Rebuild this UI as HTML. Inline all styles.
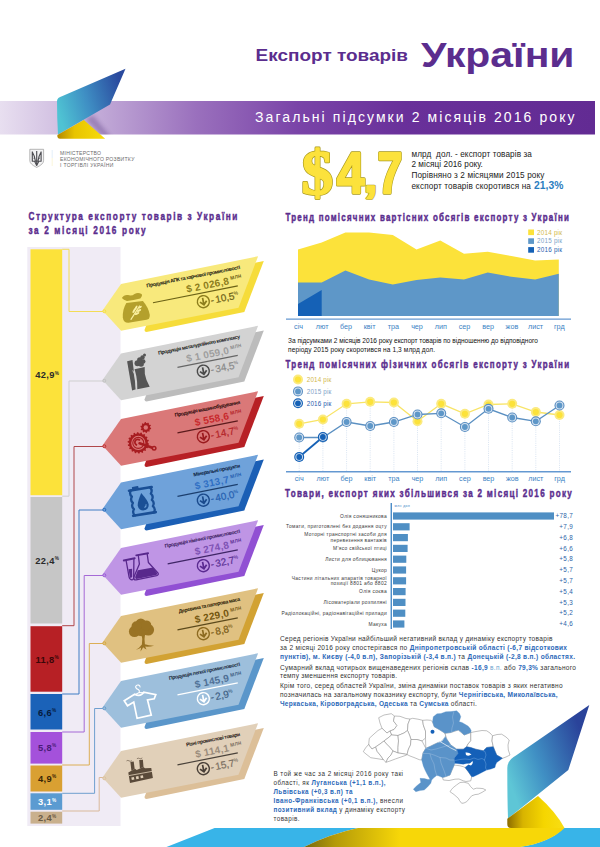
<!DOCTYPE html>
<html lang="uk"><head><meta charset="utf-8"><title>Експорт товарів України</title>
<style>
html,body{margin:0;padding:0;background:#fff;}
body{width:600px;height:847px;overflow:hidden;font-family:"Liberation Sans",sans-serif;}
svg{display:block;}
text{font-family:"Liberation Sans",sans-serif;}
.h{font-weight:bold;fill:#5b2d8e;}
.p{font-size:6.55px;fill:#333;}
.b{font-weight:bold;fill:#2b68b8;}
</style></head><body>
<svg width="600" height="847" viewBox="0 0 600 847">
<defs>
<linearGradient id="band" x1="0" x2="1" y1="0" y2="0">
<stop offset="0" stop-color="#e8dff0"/><stop offset="0.15" stop-color="#c6b0da"/><stop offset="0.33" stop-color="#9a70bd"/><stop offset="0.5" stop-color="#7a44a8"/><stop offset="0.68" stop-color="#69309a"/><stop offset="1" stop-color="#622b93"/>
</linearGradient>
<linearGradient id="rib1" x1="57" y1="108" x2="122" y2="88" gradientUnits="userSpaceOnUse">
<stop offset="0" stop-color="#4fc3d3"/><stop offset="0.45" stop-color="#3f8fc4"/><stop offset="1" stop-color="#2a4a9e"/>
</linearGradient>
<linearGradient id="fold1" x1="58" y1="0" x2="105" y2="0" gradientUnits="userSpaceOnUse">
<stop offset="0" stop-color="#b58a00"/><stop offset="0.35" stop-color="#e8c400"/><stop offset="1" stop-color="#f7dc0a"/>
</linearGradient>
<linearGradient id="rib2" x1="507" y1="775" x2="586" y2="745" gradientUnits="userSpaceOnUse">
<stop offset="0" stop-color="#5ec6d6"/><stop offset="0.4" stop-color="#4090c4"/><stop offset="1" stop-color="#2a439a"/>
</linearGradient>
<linearGradient id="fold2" x1="507" y1="0" x2="560" y2="0" gradientUnits="userSpaceOnUse">
<stop offset="0" stop-color="#8a6a00"/><stop offset="0.3" stop-color="#d8b400"/><stop offset="0.7" stop-color="#f5d600"/><stop offset="1" stop-color="#f8dc10"/>
</linearGradient>
<linearGradient id="boty" x1="300" y1="0" x2="400" y2="0" gradientUnits="userSpaceOnUse">
<stop offset="0" stop-color="#6e6210"/><stop offset="0.35" stop-color="#b49a08"/><stop offset="1" stop-color="#f7d708"/>
</linearGradient>
<filter id="blur2" x="-30%" y="-30%" width="160%" height="160%"><feGaussianBlur stdDeviation="2"/></filter>
<clipPath id="bandclip"><rect x="0" y="101" width="595" height="33.5"/></clipPath>
</defs>
<rect width="600" height="847" fill="#fff"/>

<rect x="0" y="101" width="595" height="33.5" fill="url(#band)"/>
<g clip-path="url(#bandclip)"><path d="M85 119 L107 140 L113 140 L93 115 Z" fill="#3d1f6b" opacity="0.3" filter="url(#blur2)"/></g>
<path d="M125.5 68.8 L110 104.6 L58 134.6 Q57 118 57 101 Q57 97.5 62.5 96 Z" fill="url(#rib1)"/>
<path d="M57.4 135 L83.8 120 L105.2 138.8 L60 138.8 Q57 138.8 57.4 135 Z" fill="url(#fold1)"/>
<text class="h" x="255.6" y="61" font-size="17.2" textLength="152.4" lengthAdjust="spacingAndGlyphs">Експорт товарів</text>
<text class="h" x="421" y="66.6" font-size="35.8" textLength="153.5" lengthAdjust="spacingAndGlyphs">України</text>
<text x="255" y="122.2" font-size="14" fill="#fff" textLength="319.5" lengthAdjust="spacing">Загальні підсумки 2 місяців 2016 року</text>
<path d="M29.8 149.3 H43.6 V160.6 Q43.6 164.2 36.7 167.4 Q29.8 164.2 29.8 160.6 Z" fill="#f3f3f4" stroke="#9a9a9a" stroke-width="0.7"/>
<path d="M36.7 151 V165.2 M32.3 151.6 V161.2 H41.1 V151.6 M32.3 152 Q34.6 155.5 35.4 161 M41.1 152 Q38.8 155.5 38 161 M34.6 161.2 L36.7 165.4 L38.8 161.2 M33.6 158.2 H35 M38.4 158.2 H39.8" fill="none" stroke="#4d4d52" stroke-width="1.15" stroke-linejoin="round"/>
<rect x="51.8" y="150" width="0.6" height="8" fill="#cfe3f5"/><rect x="51.8" y="158" width="0.6" height="8" fill="#f8efc0"/>
<text x="60" y="154.6" font-size="5.1" fill="#6b6b6b" textLength="41" lengthAdjust="spacing">МІНІСТЕРСТВО</text>
<text x="60" y="160.6" font-size="5.1" fill="#6b6b6b" textLength="74.4" lengthAdjust="spacing">ЕКОНОМІЧНОГО РОЗВИТКУ</text>
<text x="60" y="166.6" font-size="5.1" fill="#6b6b6b" textLength="53.4" lengthAdjust="spacing">І ТОРГІВЛІ УКРАЇНИ</text>
<g font-weight="bold" stroke-linejoin="round">
<text x="0" y="0" font-size="63.5" style="font-family:'Liberation Serif',serif" transform="translate(301.4,194) scale(1.0,1)" fill="#a8991e" stroke="#a8991e" stroke-width="2.8">$</text>
<text x="0" y="0" font-size="63.5" style="font-family:'Liberation Serif',serif" transform="translate(301.4,194) scale(1.0,1)" fill="#fce23c" stroke="#fce23c" stroke-width="1.4">$</text>
<text font-size="56.6" transform="translate(336.8,193) scale(0.88,1)" fill="#a8991e" stroke="#a8991e" stroke-width="3.4">4</text>
<text font-size="56.6" transform="translate(363.4,191.8) scale(0.9,0.72)" fill="#a8991e" stroke="#a8991e" stroke-width="3.4">,</text>
<text font-size="56.6" transform="translate(377.4,193) scale(0.79,1)" fill="#a8991e" stroke="#a8991e" stroke-width="3.4">7</text>
<text font-size="56.6" transform="translate(336.8,193) scale(0.88,1)" fill="#fce23c" stroke="#fce23c" stroke-width="2">4</text>
<text font-size="56.6" transform="translate(363.4,191.8) scale(0.9,0.72)" fill="#fce23c" stroke="#fce23c" stroke-width="2">,</text>
<text font-size="56.6" transform="translate(377.4,193) scale(0.79,1)" fill="#fce23c" stroke="#fce23c" stroke-width="2">7</text>
</g>
<text x="411.4" y="157.4" font-size="8.2" fill="#222" textLength="120.5" lengthAdjust="spacing">млрд&#160;&#160;дол. - експорт товарів за</text>
<text x="411.4" y="167" font-size="8.2" fill="#222" textLength="71.5" lengthAdjust="spacing">2 місяці 2016 року.</text>
<text x="411.4" y="178.4" font-size="8.2" fill="#222" textLength="133" lengthAdjust="spacing">Порівняно з 2 місяцями 2015 року</text>
<text x="411.4" y="188.9" font-size="8.2" fill="#222" textLength="119.5" lengthAdjust="spacing">експорт товарів скоротився на</text>
<text x="534" y="188.9" font-size="10.3" font-weight="bold" fill="#2b7dc0" textLength="29.5" lengthAdjust="spacing">21,3%</text>
<text class="h" font-size="11.3" stroke="#5b2d8e" stroke-width="0.45" transform="translate(28.4,219.9) scale(0.73,1)" textLength="286.3" lengthAdjust="spacing">Структура експорту товарів з України</text>
<text class="h" font-size="11.3" stroke="#5b2d8e" stroke-width="0.45" transform="translate(28.4,233.7) scale(0.73,1)" textLength="160.7" lengthAdjust="spacing">за 2 місяці 2016 року</text>
<text class="h" font-size="10.9" stroke="#5b2d8e" stroke-width="0.45" transform="translate(285.5,221) scale(0.73,1)" textLength="388.1" lengthAdjust="spacing">Тренд помісячних вартісних обсягів експорту з України</text>
<text class="h" font-size="10.9" stroke="#5b2d8e" stroke-width="0.45" transform="translate(285.5,368) scale(0.73,1)" textLength="388.4" lengthAdjust="spacing">Тренд помісячних фізичних обсягів експорту з України</text>
<text class="h" font-size="11.1" stroke="#5b2d8e" stroke-width="0.45" transform="translate(285,496.8) scale(0.73,1)" textLength="392.9" lengthAdjust="spacing">Товари, експорт яких збільшився за 2 місяці 2016 року</text>
<rect x="27.3" y="247" width="93.2" height="579" fill="#f0ebf5"/>
<rect x="30.5" y="249.3" width="31.7" height="245.9" fill="#fce23a"/>
<rect x="30.5" y="497" width="31.7" height="126.5" fill="#c6c6c6"/>
<rect x="30.5" y="626.2" width="31.7" height="65.5" fill="#b72025"/>
<rect x="30.5" y="694" width="31.7" height="35.5" fill="#1b62b8"/>
<rect x="30.5" y="732" width="31.7" height="31.6" fill="#a451db"/>
<rect x="30.5" y="765.5" width="31.7" height="26.0" fill="#d9a032"/>
<rect x="30.5" y="793.3" width="31.7" height="16.5" fill="#5b9bd1"/>
<rect x="30.5" y="811.7" width="31.7" height="11.9" fill="#c9b08d"/>
<text x="47.2" y="378" font-size="9.3" font-weight="bold" fill="#2a2a2a" text-anchor="middle" letter-spacing="0.35">42,9<tspan font-size="4.7" dy="-3.5">%</tspan></text>
<text x="47.2" y="563.5" font-size="9.3" font-weight="bold" fill="#2a2a2a" text-anchor="middle" letter-spacing="0.35">22,4<tspan font-size="4.7" dy="-3.5">%</tspan></text>
<text x="47.2" y="662.5" font-size="9.3" font-weight="bold" fill="#3a0708" text-anchor="middle" letter-spacing="0.35">11,8<tspan font-size="4.7" dy="-3.5">%</tspan></text>
<text x="47.2" y="715.5" font-size="9.3" font-weight="bold" fill="#061a3c" text-anchor="middle" letter-spacing="0.35">6,6<tspan font-size="4.7" dy="-3.5">%</tspan></text>
<text x="47.2" y="750.5" font-size="9.3" font-weight="bold" fill="#4a1c78" text-anchor="middle" letter-spacing="0.35">5,8<tspan font-size="4.7" dy="-3.5">%</tspan></text>
<text x="47.2" y="781.8" font-size="9.3" font-weight="bold" fill="#3a2606" text-anchor="middle" letter-spacing="0.35">4,9<tspan font-size="4.7" dy="-3.5">%</tspan></text>
<text x="47.2" y="805" font-size="9.3" font-weight="bold" fill="#ffffff" text-anchor="middle" letter-spacing="0.35">3,1<tspan font-size="4.7" dy="-3.5">%</tspan></text>
<text x="47.2" y="821.3" font-size="9.3" font-weight="bold" fill="#6a5a44" text-anchor="middle" letter-spacing="0.35">2,4<tspan font-size="4.7" dy="-3.5">%</tspan></text>
<path d="M62.2 249.3 H69 V311.5 H104" fill="none" stroke="#f3dc55" stroke-width="1"/>
<path d="M62.2 496.2 H69 V381 H104" fill="none" stroke="#cfcfcf" stroke-width="1"/>
<path d="M62.2 625.7 H74 V446.5 H104" fill="none" stroke="#b0474a" stroke-width="1"/>
<path d="M62.2 694 H79 V510 H104" fill="none" stroke="#3f7cc4" stroke-width="1"/>
<path d="M62.2 732 H84.2 V575.5 H104" fill="none" stroke="#a569d6" stroke-width="1"/>
<path d="M62.2 765 H89.3 V643.5 H104" fill="none" stroke="#dcae55" stroke-width="1"/>
<path d="M62.2 793.3 H94.6 V708.5 H104" fill="none" stroke="#6f9fcf" stroke-width="1"/>
<path d="M62.2 811 H99.2 V777.5 H104" fill="none" stroke="#d9b99a" stroke-width="1"/>
<g transform="translate(102.5,310.5)">
<path d="M60 -29 L161.3 -49.6 L141.8 1.4 L44 21.6 Q42 21.6 42 19.5 Z" fill="#f6dc3a"/>
<path d="M0 0 L18.5 -26.5 L155.6 -54.3 L136 -2.8 L18.6 20.2 Z" fill="#f8e97c"/>
<circle cx="1.8" cy="0.8" r="1.5" fill="#f8e97c" stroke="#f6dc3a" stroke-width="0.8"/>
<g transform="translate(0,0)"><path d="M23.8 -7.4 L40.4 -9.4 Q46 -3 47.3 4.5 Q47.5 8.5 44 9.3 L26 12.3 Q21 12.5 20.3 7 Q20 -1 23.8 -7.4 Z" fill="#b4a02c"/><path d="M19.4 -12.4 Q21.5 -16 25.5 -15.4 Q29.5 -14.4 32 -16.6 Q35.5 -18.6 39 -16.6 Q40.5 -15.4 37.8 -12 Q31 -10.4 24.5 -9.6 Q21 -10.4 19.4 -12.4 Z" fill="#b4a02c"/><g fill="#faf0a0"><path d="M27.7 9 L36.8 -5.2 L37.8 -4.6 L28.8 9.6 Z"/><ellipse cx="31.5" cy="0.2" rx="2.6" ry="1" transform="rotate(-60 31.5 0.2)"/><ellipse cx="33.5" cy="-2.8" rx="2.4" ry="1" transform="rotate(-60 33.5 -2.8)"/><ellipse cx="34.5" cy="3" rx="2.6" ry="1" transform="rotate(-25 34.5 3)"/><ellipse cx="36.5" cy="0" rx="2.4" ry="1" transform="rotate(-25 36.5 0)"/><ellipse cx="37.6" cy="-3.2" rx="2" ry="0.9" transform="rotate(-35 37.6 -3.2)"/></g></g>
<g transform="rotate(-11.3)">
<text x="143" y="-13.9" font-size="5.2" font-weight="bold" fill="#1a1a10" text-anchor="end" letter-spacing="-0.38">Продукція АПК та харчової промисловості</text>
<text x="129.8" y="-1" font-size="10" font-weight="bold" fill="#8c7d1c" text-anchor="end" letter-spacing="0.2">$ 2 026,8</text>
<text x="131.6" y="-5.2" font-size="6" fill="#6b6016" stroke="#6b6016" stroke-width="0.12" letter-spacing="0.1">млн</text>
<path d="M51 2.3 H137.5" stroke="#6b6216" stroke-width="1.15"/>
<circle cx="100.6" cy="11.1" r="6" fill="none" stroke="#8c7d1c" stroke-width="1.4"/>
<path d="M100.6 7.2 V14.2 M97.2 10.9 L100.6 14.3 L104 10.9" fill="none" stroke="#8c7d1c" stroke-width="1.7"/>
<text x="108" y="14.8" font-size="10" fill="#6b6016" stroke="#6b6016" stroke-width="0.2" letter-spacing="-0.1">-<tspan dx="1.6">10,5</tspan><tspan font-size="4.8" dy="-4.2" stroke-width="0.1">%</tspan></text>
</g></g>
<g transform="translate(102.5,380)">
<path d="M60 -29 L161.3 -49.6 L141.8 1.4 L44 21.6 Q42 21.6 42 19.5 Z" fill="#bcbcbc"/>
<path d="M0 0 L18.5 -26.5 L155.6 -54.3 L136 -2.8 L18.6 20.2 Z" fill="#d3d3d3"/>
<circle cx="1.8" cy="0.8" r="1.5" fill="#d3d3d3" stroke="#bcbcbc" stroke-width="0.8"/>
<g transform="translate(0,0)"><path d="M24.6 -18.8 L30 -20 L33.4 9.2 L29.6 10.4 Z" fill="#555555"/><path d="M32 -10.8 L42.2 -12.9 Q41.6 -5.8 44 0 L47.2 6.7 L34.8 9.3 Q35 2 33.8 -4 Q33 -8 32 -10.8 Z" fill="#555555"/><path d="M30.3 -9.5 Q33.6 -4 33.6 9.5" fill="none" stroke="#d3d3d3" stroke-width="0.9"/><circle cx="35" cy="-16.8" r="3" fill="#555555"/><circle cx="38.6" cy="-16" r="2.8" fill="#555555"/><circle cx="37.4" cy="-20" r="2.8" fill="#555555"/><circle cx="40" cy="-22.6" r="2.2" fill="#555555"/><circle cx="42" cy="-25" r="1.5" fill="#555555"/><circle cx="40.8" cy="-18.6" r="2.2" fill="#555555"/></g>
<g transform="rotate(-11.3)">
<text x="143" y="-13.9" font-size="5.2" font-weight="bold" fill="#1a1a1a" text-anchor="end" letter-spacing="-0.38">Продукція металургійного комплексу</text>
<text x="129.8" y="-1" font-size="10" font-weight="bold" fill="#9e9e9e" text-anchor="end" letter-spacing="0.2">$ 1 059,0</text>
<text x="131.6" y="-5.2" font-size="6" fill="#8a8a8a" stroke="#8a8a8a" stroke-width="0.12" letter-spacing="0.1">млн</text>
<path d="M76 2.3 H137.5" stroke="#666666" stroke-width="1.15"/>
<circle cx="100.6" cy="11.1" r="6" fill="none" stroke="#4a4a4a" stroke-width="1.4"/>
<path d="M100.6 7.2 V14.2 M97.2 10.9 L100.6 14.3 L104 10.9" fill="none" stroke="#4a4a4a" stroke-width="1.7"/>
<text x="108" y="14.8" font-size="10" fill="#8a8a8a" stroke="#8a8a8a" stroke-width="0.2" letter-spacing="-0.1">-<tspan dx="1.6">34,5</tspan><tspan font-size="4.8" dy="-4.2" stroke-width="0.1">%</tspan></text>
</g></g>
<g transform="translate(102.5,445.5)">
<path d="M60 -29 L161.3 -49.6 L141.8 1.4 L44 21.6 Q42 21.6 42 19.5 Z" fill="#b72025"/>
<path d="M0 0 L18.5 -26.5 L155.6 -54.3 L136 -2.8 L18.6 20.2 Z" fill="#da7878"/>
<circle cx="1.8" cy="0.8" r="1.5" fill="#da7878" stroke="#b72025" stroke-width="0.8"/>
<g transform="translate(0,0)"><polygon points="45.10,-2.60 46.49,-2.04 46.34,-0.74 44.86,-0.51 44.54,0.58 45.65,1.58 45.07,2.75 43.60,2.47 42.92,3.38 43.63,4.70 42.68,5.60 41.40,4.83 40.45,5.45 40.66,6.93 39.46,7.45 38.52,6.29 37.41,6.56 37.10,8.02 35.80,8.10 35.31,6.69 34.19,6.56 33.39,7.83 32.14,7.45 32.17,5.96 31.15,5.45 29.97,6.37 28.92,5.60 29.46,4.20 28.68,3.38 27.25,3.84 26.53,2.75 27.51,1.62 27.06,0.58 25.57,0.53 25.26,-0.74 26.57,-1.47 26.50,-2.60 25.11,-3.16 25.26,-4.46 26.74,-4.69 27.06,-5.78 25.95,-6.78 26.53,-7.95 28.00,-7.67 28.68,-8.58 27.97,-9.90 28.92,-10.80 30.20,-10.03 31.15,-10.65 30.94,-12.13 32.14,-12.65 33.08,-11.49 34.19,-11.76 34.50,-13.22 35.80,-13.30 36.29,-11.89 37.41,-11.76 38.21,-13.03 39.46,-12.65 39.43,-11.16 40.45,-10.65 41.63,-11.57 42.68,-10.80 42.14,-9.40 42.92,-8.58 44.35,-9.04 45.07,-7.95 44.09,-6.82 44.54,-5.78 46.03,-5.73 46.34,-4.46 45.03,-3.73" fill="#a71d21"/><circle cx="35.8" cy="-2.6" r="9.4" fill="#a71d21"/><circle cx="35.8" cy="-2.6" r="7.1" fill="#da7878"/><circle cx="35.8" cy="-2.6" r="5.5" fill="none" stroke="#a71d21" stroke-width="1.1"/><polygon points="47.50,-18.00 48.68,-17.49 48.44,-16.33 47.15,-16.33 46.70,-15.53 47.35,-14.43 46.47,-13.63 45.44,-14.38 44.60,-14.01 44.48,-12.73 43.30,-12.60 42.90,-13.82 42.00,-14.01 41.16,-13.04 40.13,-13.63 40.52,-14.85 39.90,-15.53 38.65,-15.25 38.16,-16.33 39.20,-17.08 39.10,-18.00 37.92,-18.51 38.16,-19.67 39.45,-19.67 39.90,-20.47 39.25,-21.57 40.13,-22.37 41.16,-21.62 42.00,-21.99 42.12,-23.27 43.30,-23.40 43.70,-22.18 44.60,-21.99 45.44,-22.96 46.47,-22.37 46.08,-21.15 46.70,-20.47 47.95,-20.75 48.44,-19.67 47.40,-18.92" fill="#a71d21"/><circle cx="43.3" cy="-18" r="4.3" fill="#a71d21"/><circle cx="43.3" cy="-18" r="2.2" fill="#da7878"/><path d="M37 -2.2 L51.3 2.7" stroke="#a71d21" stroke-width="2.5" stroke-linecap="round"/><circle cx="51.6" cy="2.8" r="2.5" fill="#a71d21"/><circle cx="51.6" cy="2.8" r="1" fill="#da7878"/><path d="M37.4 -5.2 A2.9 2.9 0 1 0 34.6 -0.4" fill="none" stroke="#a71d21" stroke-width="1.8"/></g>
<g transform="rotate(-11.3)">
<text x="143" y="-13.9" font-size="5.2" font-weight="bold" fill="#2a0a0a" text-anchor="end" letter-spacing="-0.38">Продукція машинобудування</text>
<text x="129.8" y="-1" font-size="10" font-weight="bold" fill="#c8282c" text-anchor="end" letter-spacing="0.2">$ 558,6</text>
<text x="131.6" y="-5.2" font-size="6" fill="#b32428" stroke="#b32428" stroke-width="0.12" letter-spacing="0.1">млн</text>
<path d="M76 2.3 H137.5" stroke="#5a1a1c" stroke-width="1.15"/>
<circle cx="100.6" cy="11.1" r="6" fill="none" stroke="#9a1a1e" stroke-width="1.4"/>
<path d="M100.6 7.2 V14.2 M97.2 10.9 L100.6 14.3 L104 10.9" fill="none" stroke="#9a1a1e" stroke-width="1.7"/>
<text x="108" y="14.8" font-size="10" fill="#b32428" stroke="#b32428" stroke-width="0.2" letter-spacing="-0.1">-<tspan dx="1.6">14,7</tspan><tspan font-size="4.8" dy="-4.2" stroke-width="0.1">%</tspan></text>
</g></g>
<g transform="translate(102.5,509)">
<path d="M60 -29 L161.3 -49.6 L141.8 1.4 L44 21.6 Q42 21.6 42 19.5 Z" fill="#1b5fb5"/>
<path d="M0 0 L18.5 -26.5 L155.6 -54.3 L136 -2.8 L18.6 20.2 Z" fill="#6fa2da"/>
<circle cx="1.8" cy="0.8" r="1.5" fill="#6fa2da" stroke="#1b5fb5" stroke-width="0.8"/>
<g transform="translate(0,0)"><g transform="rotate(-9.3 39.9 -7.6)"><path d="M28.5 -20.299999999999997 H51.3 M28.5 5.1 H51.3" fill="none" stroke="#1a4f95" stroke-width="2.7" stroke-linecap="round"/><path d="M30.299999999999997 -20.299999999999997 q-2.6 3.17 0 6.35 q-2.6 3.17 0 6.35 q-2.6 3.17 0 6.35 q-2.6 3.17 0 6.35 M49.5 -20.299999999999997 q2.6 3.17 0 6.35 q2.6 3.17 0 6.35 q2.6 3.17 0 6.35 q2.6 3.17 0 6.35" fill="none" stroke="#1a4f95" stroke-width="2.3" stroke-linecap="round" stroke-linejoin="round"/><rect x="31.7" y="-23.499999999999996" width="6.6" height="2.6" rx="0.8" fill="#1a4f95"/><path d="M40.1 -16.2 Q45.6 -7.3999999999999995 45.6 -3.9999999999999996 A5.5 5.5 0 0 1 34.6 -3.9999999999999996 Q34.6 -7.3999999999999995 40.1 -16.2 Z" fill="#1a4f95"/><path d="M43.1 -4.199999999999999 Q43.1 -1.7999999999999998 40.9 -1.1999999999999993" fill="none" stroke="#6fa2da" stroke-width="1"/></g></g>
<g transform="rotate(-11.3)">
<text x="143" y="-13.9" font-size="5.2" font-weight="bold" fill="#0c1c3c" text-anchor="end" letter-spacing="-0.38">Мінеральні продукти</text>
<text x="129.8" y="-1" font-size="10" font-weight="bold" fill="#2f6fc4" text-anchor="end" letter-spacing="0.2">$ 313,7</text>
<text x="131.6" y="-5.2" font-size="6" fill="#2560b0" stroke="#2560b0" stroke-width="0.12" letter-spacing="0.1">млн</text>
<path d="M76 2.3 H137.5" stroke="#1c3f6e" stroke-width="1.15"/>
<circle cx="100.6" cy="11.1" r="6" fill="none" stroke="#1a4a8c" stroke-width="1.4"/>
<path d="M100.6 7.2 V14.2 M97.2 10.9 L100.6 14.3 L104 10.9" fill="none" stroke="#1a4a8c" stroke-width="1.7"/>
<text x="108" y="14.8" font-size="10" fill="#2560b0" stroke="#2560b0" stroke-width="0.2" letter-spacing="-0.1">-<tspan dx="1.6">40,0</tspan><tspan font-size="4.8" dy="-4.2" stroke-width="0.1">%</tspan></text>
</g></g>
<g transform="translate(102.5,574.5)">
<path d="M60 -29 L161.3 -49.6 L141.8 1.4 L44 21.6 Q42 21.6 42 19.5 Z" fill="#9150d3"/>
<path d="M0 0 L18.5 -26.5 L155.6 -54.3 L136 -2.8 L18.6 20.2 Z" fill="#bf95e5"/>
<circle cx="1.8" cy="0.8" r="1.5" fill="#bf95e5" stroke="#9150d3" stroke-width="0.8"/>
<g transform="translate(0,0)"><g fill="none" stroke="#58288c" stroke-width="1.3" stroke-linejoin="round" stroke-linecap="round"><path d="M21.3 -14 L32.2 -16.2" stroke-width="1.9"/><path d="M23.6 -14 L26.6 2.6 Q27.6 5.8 30.2 5.2 Q31.6 4.4 31.2 2 L31.4 -15.6"/><path d="M33.8 -19.1 L45.6 -21.3" stroke-width="1.9"/><path d="M35.8 -19 L36.9 -10.4 L31.4 2.6 Q30.8 5.6 33.6 5.4 L54.2 1.2 Q56.6 0.2 55.4 -1.6 L45.9 -12 L44.7 -20.4"/></g><path d="M35.3 -4.2 L50.6 -7 L54.6 -1.4 Q55.2 0 53.6 0.5 L33.8 4.4 Q32.4 4.4 32.7 2.6 Z" fill="#58288c"/><path d="M26 -5.2 L29.6 -5.8 L29.7 2 Q29.2 3.8 27.6 3.2 Z" fill="#58288c"/></g>
<g transform="rotate(-11.3)">
<text x="143" y="-13.9" font-size="5.2" font-weight="bold" fill="#3a2060" text-anchor="end" letter-spacing="-0.38">Продукція хімічної промисловості</text>
<text x="129.8" y="-1" font-size="10" font-weight="bold" fill="#7e52b4" text-anchor="end" letter-spacing="0.2">$ 274,8</text>
<text x="131.6" y="-5.2" font-size="6" fill="#5a3094" stroke="#5a3094" stroke-width="0.12" letter-spacing="0.1">млн</text>
<path d="M66 2.3 H137.5" stroke="#3f2566" stroke-width="1.15"/>
<circle cx="100.6" cy="11.1" r="6" fill="none" stroke="#5a2a90" stroke-width="1.4"/>
<path d="M100.6 7.2 V14.2 M97.2 10.9 L100.6 14.3 L104 10.9" fill="none" stroke="#5a2a90" stroke-width="1.7"/>
<text x="108" y="14.8" font-size="10" fill="#5a3094" stroke="#5a3094" stroke-width="0.2" letter-spacing="-0.1">-<tspan dx="1.6">32,7</tspan><tspan font-size="4.8" dy="-4.2" stroke-width="0.1">%</tspan></text>
</g></g>
<g transform="translate(102.5,642.5)">
<path d="M60 -29 L161.3 -49.6 L141.8 1.4 L44 21.6 Q42 21.6 42 19.5 Z" fill="#d2a233"/>
<path d="M0 0 L18.5 -26.5 L155.6 -54.3 L136 -2.8 L18.6 20.2 Z" fill="#e0c181"/>
<circle cx="1.8" cy="0.8" r="1.5" fill="#e0c181" stroke="#d2a233" stroke-width="0.8"/>
<g transform="translate(0,0)"><g transform="translate(0,1.3)"><circle cx="38.3" cy="-20" r="5.2" fill="#997324"/><circle cx="32" cy="-12.3" r="5.6" fill="#997324"/><circle cx="45.8" cy="-14" r="5.8" fill="#997324"/><circle cx="39" cy="-14.6" r="7" fill="#997324"/><circle cx="34" cy="-17.6" r="5" fill="#997324"/><circle cx="43.8" cy="-18.4" r="5" fill="#997324"/><path d="M39 -10 Q40.4 -4 39.4 0.6 Q37 4 33.4 6 Q37 4.8 38.6 3.6 L38 7.8 Q39.8 5 40.6 3.4 Q42 4.6 44 5.6 Q43 4 42.8 2.8 Q47 3.2 51.6 2 Q46 1.6 42.4 0.4 Q41.6 -5 42.6 -10.4 Z" fill="#997324"/></g></g>
<g transform="rotate(-11.3)">
<text x="143" y="-13.9" font-size="5.2" font-weight="bold" fill="#2a1a05" text-anchor="end" letter-spacing="-0.38">Деревина та паперова маса</text>
<text x="129.8" y="-1" font-size="10" font-weight="bold" fill="#73560f" text-anchor="end" letter-spacing="0.2">$ 229,0</text>
<text x="131.6" y="-5.2" font-size="6" fill="#7a5c18" stroke="#7a5c18" stroke-width="0.12" letter-spacing="0.1">млн</text>
<path d="M76 2.3 H137.5" stroke="#5c4a1c" stroke-width="1.15"/>
<circle cx="100.6" cy="11.1" r="6" fill="none" stroke="#8c6a20" stroke-width="1.4"/>
<path d="M100.6 7.2 V14.2 M97.2 10.9 L100.6 14.3 L104 10.9" fill="none" stroke="#8c6a20" stroke-width="1.7"/>
<text x="108" y="14.8" font-size="10" fill="#7a5c18" stroke="#7a5c18" stroke-width="0.2" letter-spacing="-0.1">-<tspan dx="1.6">8,8</tspan><tspan font-size="4.8" dy="-4.2" stroke-width="0.1">%</tspan></text>
</g></g>
<g transform="translate(102.5,707.5)">
<path d="M60 -29 L161.3 -49.6 L141.8 1.4 L44 21.6 Q42 21.6 42 19.5 Z" fill="#5a96ca"/>
<path d="M0 0 L18.5 -26.5 L155.6 -54.3 L136 -2.8 L18.6 20.2 Z" fill="#9dbfdc"/>
<circle cx="1.8" cy="0.8" r="1.5" fill="#9dbfdc" stroke="#5a96ca" stroke-width="0.8"/>
<g transform="translate(0,0)"><g fill="none" stroke="#ffffff" stroke-width="1.7" stroke-linejoin="miter"><path d="M32.1 -13.3 L21.7 -6.7 L25 -1.7 L31.25 -5.4 L34.6 10.8 L48.75 7.5 L45 -7.5 L51.7 -8.75 L53.3 -12.9 L41.25 -15.4 Q38 -10 32.1 -13.3 Z"/><path d="M36.7 -14.6 Q37.4 -17 35.8 -18 Q33 -19 33.2 -21 Q34 -23 36.2 -22.4 Q37.8 -21.6 37.6 -20.2" stroke-width="1.1"/><path d="M31.8 -12.4 L36.7 -15 L42 -14.6" stroke-width="1.1"/></g></g>
<g transform="rotate(-11.3)">
<text x="143" y="-13.9" font-size="5.2" font-weight="bold" fill="#1c2c3c" text-anchor="end" letter-spacing="-0.38">Продукція легкої промисловості</text>
<text x="129.8" y="-1" font-size="10" font-weight="bold" fill="#4f7096" text-anchor="end" letter-spacing="0.2">$ 145,9</text>
<text x="131.6" y="-5.2" font-size="6" fill="#3f5f84" stroke="#3f5f84" stroke-width="0.12" letter-spacing="0.1">млн</text>
<path d="M76 2.3 H137.5" stroke="#ffffff" stroke-width="1.15"/>
<circle cx="100.6" cy="11.1" r="6" fill="none" stroke="#ffffff" stroke-width="1.4"/>
<path d="M100.6 7.2 V14.2 M97.2 10.9 L100.6 14.3 L104 10.9" fill="none" stroke="#ffffff" stroke-width="1.7"/>
<text x="108" y="14.8" font-size="10" fill="#3f5f84" stroke="#3f5f84" stroke-width="0.2" letter-spacing="-0.1">-<tspan dx="1.6">2,9</tspan><tspan font-size="4.8" dy="-4.2" stroke-width="0.1">%</tspan></text>
</g></g>
<g transform="translate(102.5,777.5)">
<path d="M60 -29 L161.3 -49.6 L141.8 1.4 L44 21.6 Q42 21.6 42 19.5 Z" fill="#dcbf98"/>
<path d="M0 0 L18.5 -26.5 L155.6 -54.3 L136 -2.8 L18.6 20.2 Z" fill="#e1d0b9"/>
<circle cx="1.8" cy="0.8" r="1.5" fill="#e1d0b9" stroke="#dcbf98" stroke-width="0.8"/>
<g transform="translate(0,-1)"><path d="M25.8 -4 L32.5 -7.75 L34.2 -6.5 L40.8 -9.4 L42.5 -8.2 L48.75 -8.6 L50.4 1.4 L27.5 6.4 Z" fill="#5a4a3a"/><path d="M27.9 -14.4 L31.2 -14.9 L32.2 -7.6 L28.9 -5.8 Z M36.7 -16.5 L40.4 -16.8 L41 -9.5 L37.4 -8 Z" fill="#5a4a3a"/><path d="M26.4 -0.9 L49.5 -5.1" stroke="#e1d0b9" stroke-width="0.8"/><path d="M28.8 1 L31.4 0.5 L31.9 3.1 L29.3 3.6 Z M33.3 0.1 L35.9 -0.4 L36.4 2.2 L33.8 2.7 Z M37.8 -0.8 L40.4 -1.3 L40.9 1.3 L38.3 1.8 Z" fill="#e1d0b9"/><path d="M24 -15.6 q1.4 -1 2.6 0 q1.2 0.8 2.8 -0.2 M34.4 -17.8 q1.4 -1 2.6 -0.2 q1.2 0.8 2.8 -0.6" fill="none" stroke="#5a4a3a" stroke-width="0.6"/></g>
<g transform="rotate(-11.3)">
<text x="143" y="-13.9" font-size="5.2" font-weight="bold" fill="#2a2018" text-anchor="end" letter-spacing="-0.38">Різні промислові товари</text>
<text x="129.8" y="-1" font-size="10" font-weight="bold" fill="#9a8c7c" text-anchor="end" letter-spacing="0.2">$ 114,1</text>
<text x="131.6" y="-5.2" font-size="6" fill="#7a6e60" stroke="#7a6e60" stroke-width="0.12" letter-spacing="0.1">млн</text>
<path d="M76 2.3 H137.5" stroke="#4a423a" stroke-width="1.15"/>
<circle cx="100.6" cy="11.1" r="6" fill="none" stroke="#4a4038" stroke-width="1.4"/>
<path d="M100.6 7.2 V14.2 M97.2 10.9 L100.6 14.3 L104 10.9" fill="none" stroke="#4a4038" stroke-width="1.7"/>
<text x="108" y="14.8" font-size="10" fill="#7a6e60" stroke="#7a6e60" stroke-width="0.2" letter-spacing="-0.1">-<tspan dx="1.6">15,7</tspan><tspan font-size="4.8" dy="-4.2" stroke-width="0.1">%</tspan></text>
</g></g>
<polygon points="298.0,249.5 321.7,242.5 345.4,232.5 369.1,232.5 392.8,235.0 416.5,249.5 440.3,240.5 464.0,253.8 487.7,251.8 511.4,256.0 535.1,260.5 558.8,259.5 558.8,316 298,316" fill="#fce23a"/>
<polygon points="298.0,282.5 321.7,282.5 345.4,270.5 369.1,279.5 392.8,284.5 416.5,280.0 440.3,277.5 464.0,279.5 487.7,272.5 511.4,276.8 535.1,279.5 558.8,273.8 558.8,316 298,316" fill="#5e97c8"/>
<polygon points="298.0,304 321.7,290 321.7,316 298.0,316" fill="#1561b6"/>
<rect x="286" y="318.6" width="285" height="1" fill="#3f7fc6"/>
<text x="298.5" y="329.2" font-size="7.2" fill="#3a82c4" text-anchor="middle">січ</text>
<text x="322.2" y="329.2" font-size="7.2" fill="#3a82c4" text-anchor="middle">лют</text>
<text x="345.9" y="329.2" font-size="7.2" fill="#3a82c4" text-anchor="middle">бер</text>
<text x="369.6" y="329.2" font-size="7.2" fill="#3a82c4" text-anchor="middle">квіт</text>
<text x="393.3" y="329.2" font-size="7.2" fill="#3a82c4" text-anchor="middle">тра</text>
<text x="417.0" y="329.2" font-size="7.2" fill="#3a82c4" text-anchor="middle">чер</text>
<text x="440.8" y="329.2" font-size="7.2" fill="#3a82c4" text-anchor="middle">лип</text>
<text x="464.5" y="329.2" font-size="7.2" fill="#3a82c4" text-anchor="middle">сер</text>
<text x="488.2" y="329.2" font-size="7.2" fill="#3a82c4" text-anchor="middle">вер</text>
<text x="511.9" y="329.2" font-size="7.2" fill="#3a82c4" text-anchor="middle">жов</text>
<text x="535.6" y="329.2" font-size="7.2" fill="#3a82c4" text-anchor="middle">лист</text>
<text x="559.3" y="329.2" font-size="7.2" fill="#3a82c4" text-anchor="middle">грд</text>
<rect x="528.2" y="229.5" width="5.8" height="5.6" fill="#fce23a"/>
<text x="537" y="234.6" font-size="6.3" fill="#d3b84e" textLength="25" lengthAdjust="spacing">2014 рік</text>
<rect x="528.2" y="238.3" width="5.8" height="5.6" fill="#5e97c8"/>
<text x="537" y="243.4" font-size="6.3" fill="#7fa2c8" textLength="25" lengthAdjust="spacing">2015 рік</text>
<rect x="528.2" y="247.1" width="5.8" height="5.6" fill="#1561b6"/>
<text x="537" y="252.2" font-size="6.3" fill="#2a5cae" textLength="25" lengthAdjust="spacing">2016 рік</text>
<text class="p" x="288" y="342.7" style="fill:#111" textLength="250" lengthAdjust="spacing">За підсумками 2 місяців 2016 року експорт товарів по відношенню до відповідного</text>
<text class="p" x="288" y="351.8" style="fill:#111" textLength="147" lengthAdjust="spacing">періоду 2015 року скоротився на 1,3 млрд  дол.</text>
<path d="M299.2 423.8 V471.8" stroke="#c0d2e8" stroke-width="0.6" stroke-dasharray="1 1.2"/>
<path d="M322.9 419.5 V471.8" stroke="#c0d2e8" stroke-width="0.6" stroke-dasharray="1 1.2"/>
<path d="M346.6 403.8 V471.8" stroke="#c0d2e8" stroke-width="0.6" stroke-dasharray="1 1.2"/>
<path d="M370.2 401.8 V471.8" stroke="#c0d2e8" stroke-width="0.6" stroke-dasharray="1 1.2"/>
<path d="M393.9 402.5 V471.8" stroke="#c0d2e8" stroke-width="0.6" stroke-dasharray="1 1.2"/>
<path d="M417.5 414.5 V471.8" stroke="#c0d2e8" stroke-width="0.6" stroke-dasharray="1 1.2"/>
<path d="M441.2 403.8 V471.8" stroke="#c0d2e8" stroke-width="0.6" stroke-dasharray="1 1.2"/>
<path d="M464.9 413.8 V471.8" stroke="#c0d2e8" stroke-width="0.6" stroke-dasharray="1 1.2"/>
<path d="M488.5 404.5 V471.8" stroke="#c0d2e8" stroke-width="0.6" stroke-dasharray="1 1.2"/>
<path d="M512.2 403.8 V471.8" stroke="#c0d2e8" stroke-width="0.6" stroke-dasharray="1 1.2"/>
<path d="M535.8 412.0 V471.8" stroke="#c0d2e8" stroke-width="0.6" stroke-dasharray="1 1.2"/>
<path d="M559.5 405.5 V471.8" stroke="#c0d2e8" stroke-width="0.6" stroke-dasharray="1 1.2"/>
<rect x="286" y="471.2" width="285" height="1.2" fill="#3f7fc6"/>
<polyline points="299.2,423.8 322.9,419.5 346.6,403.8 370.2,401.8 393.9,402.5 417.5,421.3 441.2,403.8 464.9,413.8 488.5,404.5 512.2,403.8 535.8,412.0 559.5,415.0" fill="none" stroke="#f8e467" stroke-width="1.3"/>
<polyline points="299.2,437.5 322.9,437.5 346.6,422.0 370.2,426.0 393.9,422.0 417.5,414.5 441.2,413.3 464.9,427.0 488.5,408.8 512.2,417.5 535.8,421.3 559.5,405.5" fill="none" stroke="#5b90c2" stroke-width="1.3"/>
<polyline points="299.2,457.0 322.9,437.0" fill="none" stroke="#1561b6" stroke-width="1.8"/>
<circle cx="299.2" cy="423.8" r="5" fill="#fbea80"/><circle cx="299.2" cy="423.8" r="3.1" fill="#fce23a"/>
<circle cx="322.9" cy="419.5" r="5" fill="#fbea80"/><circle cx="322.9" cy="419.5" r="3.1" fill="#fce23a"/>
<circle cx="346.6" cy="403.8" r="5" fill="#fbea80"/><circle cx="346.6" cy="403.8" r="3.1" fill="#fce23a"/>
<circle cx="370.2" cy="401.8" r="5" fill="#fbea80"/><circle cx="370.2" cy="401.8" r="3.1" fill="#fce23a"/>
<circle cx="393.9" cy="402.5" r="5" fill="#fbea80"/><circle cx="393.9" cy="402.5" r="3.1" fill="#fce23a"/>
<circle cx="417.5" cy="421.3" r="5" fill="#fbea80"/><circle cx="417.5" cy="421.3" r="3.1" fill="#fce23a"/>
<circle cx="441.2" cy="403.8" r="5" fill="#fbea80"/><circle cx="441.2" cy="403.8" r="3.1" fill="#fce23a"/>
<circle cx="464.9" cy="413.8" r="5" fill="#fbea80"/><circle cx="464.9" cy="413.8" r="3.1" fill="#fce23a"/>
<circle cx="488.5" cy="404.5" r="5" fill="#fbea80"/><circle cx="488.5" cy="404.5" r="3.1" fill="#fce23a"/>
<circle cx="512.2" cy="403.8" r="5" fill="#fbea80"/><circle cx="512.2" cy="403.8" r="3.1" fill="#fce23a"/>
<circle cx="535.8" cy="412.0" r="5" fill="#fbea80"/><circle cx="535.8" cy="412.0" r="3.1" fill="#fce23a"/>
<circle cx="559.5" cy="415.0" r="5" fill="#fbea80"/><circle cx="559.5" cy="415.0" r="3.1" fill="#fce23a"/>
<circle cx="299.2" cy="437.5" r="5" fill="#5b8fc2"/><circle cx="299.2" cy="437.5" r="3.9" fill="#d6e3f1"/><circle cx="299.2" cy="437.5" r="2.9" fill="#5e97c8"/>
<circle cx="322.9" cy="437.5" r="5" fill="#5b8fc2"/><circle cx="322.9" cy="437.5" r="3.9" fill="#d6e3f1"/><circle cx="322.9" cy="437.5" r="2.9" fill="#5e97c8"/>
<circle cx="346.6" cy="422.0" r="5" fill="#5b8fc2"/><circle cx="346.6" cy="422.0" r="3.9" fill="#d6e3f1"/><circle cx="346.6" cy="422.0" r="2.9" fill="#5e97c8"/>
<circle cx="370.2" cy="426.0" r="5" fill="#5b8fc2"/><circle cx="370.2" cy="426.0" r="3.9" fill="#d6e3f1"/><circle cx="370.2" cy="426.0" r="2.9" fill="#5e97c8"/>
<circle cx="393.9" cy="422.0" r="5" fill="#5b8fc2"/><circle cx="393.9" cy="422.0" r="3.9" fill="#d6e3f1"/><circle cx="393.9" cy="422.0" r="2.9" fill="#5e97c8"/>
<circle cx="417.5" cy="414.5" r="5" fill="#5b8fc2"/><circle cx="417.5" cy="414.5" r="3.9" fill="#d6e3f1"/><circle cx="417.5" cy="414.5" r="2.9" fill="#5e97c8"/>
<circle cx="441.2" cy="413.3" r="5" fill="#5b8fc2"/><circle cx="441.2" cy="413.3" r="3.9" fill="#d6e3f1"/><circle cx="441.2" cy="413.3" r="2.9" fill="#5e97c8"/>
<circle cx="464.9" cy="427.0" r="5" fill="#5b8fc2"/><circle cx="464.9" cy="427.0" r="3.9" fill="#d6e3f1"/><circle cx="464.9" cy="427.0" r="2.9" fill="#5e97c8"/>
<circle cx="488.5" cy="408.8" r="5" fill="#5b8fc2"/><circle cx="488.5" cy="408.8" r="3.9" fill="#d6e3f1"/><circle cx="488.5" cy="408.8" r="2.9" fill="#5e97c8"/>
<circle cx="512.2" cy="417.5" r="5" fill="#5b8fc2"/><circle cx="512.2" cy="417.5" r="3.9" fill="#d6e3f1"/><circle cx="512.2" cy="417.5" r="2.9" fill="#5e97c8"/>
<circle cx="535.8" cy="421.3" r="5" fill="#5b8fc2"/><circle cx="535.8" cy="421.3" r="3.9" fill="#d6e3f1"/><circle cx="535.8" cy="421.3" r="2.9" fill="#5e97c8"/>
<circle cx="559.5" cy="405.5" r="5" fill="#5b8fc2"/><circle cx="559.5" cy="405.5" r="3.9" fill="#d6e3f1"/><circle cx="559.5" cy="405.5" r="2.9" fill="#5e97c8"/>
<circle cx="299.2" cy="457.0" r="5" fill="#1561b6"/><circle cx="299.2" cy="457.0" r="3.8" fill="#d6e3f1"/><circle cx="299.2" cy="457.0" r="2.9" fill="#1561b6"/>
<circle cx="322.9" cy="437.0" r="5" fill="#1561b6"/><circle cx="322.9" cy="437.0" r="3.8" fill="#d6e3f1"/><circle cx="322.9" cy="437.0" r="2.9" fill="#1561b6"/>
<text x="299.2" y="481.3" font-size="7.2" fill="#3a82c4" text-anchor="middle">січ</text>
<text x="322.9" y="481.3" font-size="7.2" fill="#3a82c4" text-anchor="middle">лют</text>
<text x="346.6" y="481.3" font-size="7.2" fill="#3a82c4" text-anchor="middle">бер</text>
<text x="370.2" y="481.3" font-size="7.2" fill="#3a82c4" text-anchor="middle">квіт</text>
<text x="393.9" y="481.3" font-size="7.2" fill="#3a82c4" text-anchor="middle">тра</text>
<text x="417.5" y="481.3" font-size="7.2" fill="#3a82c4" text-anchor="middle">чер</text>
<text x="441.2" y="481.3" font-size="7.2" fill="#3a82c4" text-anchor="middle">лип</text>
<text x="464.9" y="481.3" font-size="7.2" fill="#3a82c4" text-anchor="middle">сер</text>
<text x="488.5" y="481.3" font-size="7.2" fill="#3a82c4" text-anchor="middle">вер</text>
<text x="512.2" y="481.3" font-size="7.2" fill="#3a82c4" text-anchor="middle">жов</text>
<text x="535.8" y="481.3" font-size="7.2" fill="#3a82c4" text-anchor="middle">лист</text>
<text x="559.5" y="481.3" font-size="7.2" fill="#3a82c4" text-anchor="middle">грд</text>
<circle cx="298.0" cy="379.5" r="5" fill="#fbea80"/><circle cx="298.0" cy="379.5" r="3.1" fill="#fce23a"/>
<text x="306.8" y="381.8" font-size="6.3" fill="#d3b84e" textLength="24.5" lengthAdjust="spacing">2014 рік</text>
<circle cx="298.0" cy="391.4" r="5" fill="#5b8fc2"/><circle cx="298.0" cy="391.4" r="3.9" fill="#d6e3f1"/><circle cx="298.0" cy="391.4" r="2.9" fill="#5e97c8"/>
<text x="306.8" y="393.7" font-size="6.3" fill="#7fa2c8" textLength="24.5" lengthAdjust="spacing">2015 рік</text>
<circle cx="298.0" cy="403.3" r="5" fill="#1561b6"/><circle cx="298.0" cy="403.3" r="3.8" fill="#d6e3f1"/><circle cx="298.0" cy="403.3" r="2.9" fill="#1561b6"/>
<text x="306.8" y="405.6" font-size="6.3" fill="#2a5cae" textLength="24.5" lengthAdjust="spacing">2016 рік</text>
<rect x="390.6" y="503" width="1.3" height="126" fill="#3a82c4"/>
<text x="394.5" y="507" font-size="3.4" fill="#3a82c4" letter-spacing="0.4">млн дол</text>
<rect x="393" y="512.4" width="161.0" height="7.2" fill="#4f8fc4"/>
<text x="573" y="518.2" font-size="6.3" fill="#2d62a6" text-anchor="end" letter-spacing="0.3">+78,7</text>
<text x="387" y="517.6" font-size="4.9" fill="#3a3a3a" text-anchor="end" letter-spacing="0.32">Олія соняшникова</text>
<rect x="393" y="523.2" width="16.6" height="7.2" fill="#4f8fc4"/>
<text x="573" y="529.0" font-size="6.3" fill="#2d62a6" text-anchor="end" letter-spacing="0.3">+7,9</text>
<text x="387" y="528.4" font-size="4.9" fill="#3a3a3a" text-anchor="end" letter-spacing="0.32">Томати, приготовлені без додання оцту</text>
<rect x="393" y="534.0" width="14.9" height="7.2" fill="#4f8fc4"/>
<text x="573" y="539.8" font-size="6.3" fill="#2d62a6" text-anchor="end" letter-spacing="0.3">+6,8</text>
<text x="387" y="536.4" font-size="4.9" fill="#3a3a3a" text-anchor="end" letter-spacing="0.32">Моторні транспортні засоби для</text>
<text x="387" y="542.0" font-size="4.9" fill="#3a3a3a" text-anchor="end" letter-spacing="0.32">перевезення вантажів</text>
<rect x="393" y="544.8" width="14.6" height="7.2" fill="#4f8fc4"/>
<text x="573" y="550.6" font-size="6.3" fill="#2d62a6" text-anchor="end" letter-spacing="0.3">+6,6</text>
<text x="387" y="550.0" font-size="4.9" fill="#3a3a3a" text-anchor="end" letter-spacing="0.32">М'ясо свійської птиці</text>
<rect x="393" y="555.6" width="13.3" height="7.2" fill="#4f8fc4"/>
<text x="573" y="561.4" font-size="6.3" fill="#2d62a6" text-anchor="end" letter-spacing="0.3">+5,8</text>
<text x="387" y="560.8" font-size="4.9" fill="#3a3a3a" text-anchor="end" letter-spacing="0.32">Листи для облицювання</text>
<rect x="393" y="566.4" width="13.1" height="7.2" fill="#4f8fc4"/>
<text x="573" y="572.2" font-size="6.3" fill="#2d62a6" text-anchor="end" letter-spacing="0.3">+5,7</text>
<text x="387" y="571.6" font-size="4.9" fill="#3a3a3a" text-anchor="end" letter-spacing="0.32">Цукор</text>
<rect x="393" y="577.2" width="13.1" height="7.2" fill="#4f8fc4"/>
<text x="573" y="583.0" font-size="6.3" fill="#2d62a6" text-anchor="end" letter-spacing="0.3">+5,7</text>
<text x="387" y="579.6" font-size="4.9" fill="#3a3a3a" text-anchor="end" letter-spacing="0.32">Частини літальних апаратів товарної</text>
<text x="387" y="585.2" font-size="4.9" fill="#3a3a3a" text-anchor="end" letter-spacing="0.32">позиції 8801 або 8802</text>
<rect x="393" y="588.0" width="12.6" height="7.2" fill="#4f8fc4"/>
<text x="573" y="593.8" font-size="6.3" fill="#2d62a6" text-anchor="end" letter-spacing="0.3">+5,4</text>
<text x="387" y="593.2" font-size="4.9" fill="#3a3a3a" text-anchor="end" letter-spacing="0.32">Олія соєва</text>
<rect x="393" y="598.8" width="12.5" height="7.2" fill="#4f8fc4"/>
<text x="573" y="604.6" font-size="6.3" fill="#2d62a6" text-anchor="end" letter-spacing="0.3">+5,3</text>
<text x="387" y="604.0" font-size="4.9" fill="#3a3a3a" text-anchor="end" letter-spacing="0.32">Лісоматеріали розпиляні</text>
<rect x="393" y="609.6" width="12.3" height="7.2" fill="#4f8fc4"/>
<text x="573" y="615.4" font-size="6.3" fill="#2d62a6" text-anchor="end" letter-spacing="0.3">+5,2</text>
<text x="387" y="614.8" font-size="4.9" fill="#3a3a3a" text-anchor="end" letter-spacing="0.32">Радіолокаційні, радіонавігаційні прилади</text>
<rect x="393" y="620.4" width="11.4" height="7.2" fill="#4f8fc4"/>
<text x="573" y="626.2" font-size="6.3" fill="#2d62a6" text-anchor="end" letter-spacing="0.3">+4,6</text>
<text x="387" y="625.6" font-size="4.9" fill="#3a3a3a" text-anchor="end" letter-spacing="0.32">Макуха</text>
<text class="p" x="280" y="640.8" textLength="272.4" lengthAdjust="spacing">Серед регіонів України найбільший негативний вклад у динаміку експорту товарів</text>
<text class="p" x="280" y="650" textLength="287" lengthAdjust="spacing">за 2 місяці 2016 року спостерігався по <tspan class="b">Дніпропетровській області (-6,7 відсоткових</tspan></text>
<text class="p" x="280" y="658.7" textLength="295" lengthAdjust="spacing"><tspan class="b">пунктів), м. Києву (-4,0 в.п), Запорізькій (-3,4 в.п.)</tspan> та <tspan class="b">Донецькій (-2,8 в.п.) областях.</tspan></text>
<text class="p" x="280" y="669.6" textLength="296" lengthAdjust="spacing">Сумарний вклад чотирьох вищенаведених регіонів склав <tspan class="b">-16,9</tspan> <tspan fill="#6a9fce">в.п.</tspan> або <tspan class="b">79,3%</tspan> загального</text>
<text class="p" x="280" y="678.2" textLength="117" lengthAdjust="spacing">темпу зменшення експорту товарів.</text>
<text class="p" x="280" y="688" textLength="282.6" lengthAdjust="spacing">Крім того, серед областей України, зміна динаміки поставок товарів з яких негативно</text>
<text class="p" x="280" y="697" textLength="277.5" lengthAdjust="spacing">позначилась на загальному показнику експорту, були <tspan class="b">Чернігівська, Миколаївська,</tspan></text>
<text class="p" x="280" y="706" textLength="196.8" lengthAdjust="spacing"><tspan class="b">Черкаська, Кіровоградська, Одеська</tspan> та <tspan class="b">Сумська</tspan> області.</text>
<text class="p" style="font-size:6.3px" x="273.5" y="775.7" textLength="129.5" lengthAdjust="spacing">В той же час за 2 місяці 2016 року такі</text>
<text class="p" style="font-size:6.3px" x="273.5" y="785" textLength="112" lengthAdjust="spacing">області, як <tspan class="b">Луганська (+1,1 в.п.),</tspan></text>
<text class="p" style="font-size:6.3px" x="273.5" y="794" textLength="79" lengthAdjust="spacing"><tspan class="b">Львівська (+0,3 в.п) та</tspan></text>
<text class="p" style="font-size:6.3px" x="273.5" y="803" textLength="129.5" lengthAdjust="spacing"><tspan class="b">Івано-Франківська (+0,1 в.п.),</tspan> внесли</text>
<text class="p" style="font-size:6.3px" x="273.5" y="812" textLength="131.5" lengthAdjust="spacing"><tspan class="b">позитивний вклад</tspan> у динаміку експорту</text>
<text class="p" style="font-size:6.3px" x="273.5" y="821" textLength="26" lengthAdjust="spacing">товарів.</text>
<path d="M378.7 717.7 L384.0 715.0 L391.3 713.7 L394.5 716.0 L393.5 721.0 L397.0 725.5 L394.0 729.5 L390.0 731.0 L387.0 733.0 L382.0 728.3 L380.0 723.0 Z" fill="#ffffff" stroke="#8c8c8c" stroke-width="0.55" stroke-linejoin="round"/>
<path d="M394.5 716.0 L400.0 716.3 L406.0 718.5 L410.0 719.0 L408.0 724.0 L407.5 730.5 L404.0 733.0 L398.0 735.5 L391.5 735.0 L390.0 731.0 L394.0 729.5 L397.0 725.5 L393.5 721.0 Z" fill="#ffffff" stroke="#8c8c8c" stroke-width="0.55" stroke-linejoin="round"/>
<path d="M410.0 719.0 L412.7 718.3 L418.0 719.2 L422.7 720.3 L423.3 725.0 L425.5 731.0 L425.5 738.0 L422.0 741.0 L417.0 739.5 L411.0 739.5 L409.5 735.0 L407.5 730.5 L408.0 724.0 Z" fill="#ffffff" stroke="#8c8c8c" stroke-width="0.55" stroke-linejoin="round"/>
<path d="M422.7 720.3 L427.0 720.0 L430.7 720.3 L432.5 721.7 L434.2 726.7 L440.0 730.0 L445.0 733.3 L445.8 736.0 L442.0 741.0 L438.3 742.5 L434.0 744.5 L430.0 746.5 L425.8 748.3 L425.5 738.0 L425.5 731.0 L423.3 725.0 Z" fill="#ffffff" stroke="#8c8c8c" stroke-width="0.55" stroke-linejoin="round"/>
<path d="M382.0 728.3 L387.0 733.0 L390.0 731.0 L391.5 735.0 L388.0 738.0 L384.0 741.0 L380.0 744.0 L375.5 747.0 L372.0 749.0 L369.5 746.0 L368.7 744.3 L369.3 738.3 L374.0 734.0 L378.0 730.5 Z" fill="#ffffff" stroke="#8c8c8c" stroke-width="0.55" stroke-linejoin="round"/>
<path d="M391.5 735.0 L398.0 735.5 L398.5 741.0 L398.0 747.5 L398.0 753.0 L393.0 751.0 L389.5 747.0 L386.5 744.0 L384.0 741.0 L388.0 738.0 Z" fill="#ffffff" stroke="#8c8c8c" stroke-width="0.55" stroke-linejoin="round"/>
<path d="M398.0 735.5 L404.0 733.0 L407.5 730.5 L409.5 735.0 L411.0 739.5 L410.5 745.0 L408.5 749.0 L407.0 754.5 L402.0 753.5 L398.0 753.0 L398.0 747.5 L398.5 741.0 Z" fill="#ffffff" stroke="#8c8c8c" stroke-width="0.55" stroke-linejoin="round"/>
<path d="M411.0 739.5 L417.0 739.5 L422.0 741.0 L425.8 748.3 L423.0 753.0 L421.7 760.0 L419.3 759.7 L414.0 757.5 L410.0 756.0 L407.0 754.5 L408.5 749.0 L410.5 745.0 Z" fill="#ffffff" stroke="#8c8c8c" stroke-width="0.55" stroke-linejoin="round"/>
<path d="M384.0 741.0 L386.5 744.0 L389.5 747.0 L393.0 751.0 L391.0 755.0 L388.0 758.0 L386.0 762.3 L383.3 759.7 L380.0 755.0 L377.0 751.5 L375.5 747.0 L380.0 744.0 Z" fill="#ffffff" stroke="#8c8c8c" stroke-width="0.55" stroke-linejoin="round"/>
<path d="M368.7 744.3 L369.5 746.0 L372.0 749.0 L375.5 747.0 L377.0 751.5 L380.0 755.0 L383.3 759.7 L378.0 758.8 L370.7 757.7 L366.0 754.0 L363.3 751.7 L365.5 748.0 Z" fill="#ffffff" stroke="#8c8c8c" stroke-width="0.55" stroke-linejoin="round"/>
<path d="M393.0 751.0 L398.0 753.0 L402.0 753.5 L407.0 754.5 L406.7 755.0 L401.0 757.0 L395.3 759.0 L390.0 761.0 L386.0 762.3 L388.0 758.0 L391.0 755.0 Z" fill="#ffffff" stroke="#8c8c8c" stroke-width="0.55" stroke-linejoin="round"/>
<path d="M445.0 733.3 L450.8 732.5 L458.3 730.0 L464.2 735.0 L470.8 732.5 L470.8 740.8 L468.0 744.0 L466.7 746.7 L463.3 749.2 L456.7 749.2 L450.8 745.0 L447.0 739.5 L445.8 736.0 Z" fill="#ffffff" stroke="#8c8c8c" stroke-width="0.55" stroke-linejoin="round"/>
<path d="M470.8 732.5 L476.0 731.5 L482.0 730.5 L486.7 730.8 L490.0 733.0 L492.5 735.8 L492.0 741.0 L493.3 746.7 L486.7 747.5 L483.3 750.8 L475.8 749.2 L466.7 746.7 L468.0 744.0 L470.8 740.8 Z" fill="#ffffff" stroke="#8c8c8c" stroke-width="0.55" stroke-linejoin="round"/>
<path d="M492.5 735.8 L497.0 734.5 L501.7 734.2 L506.0 737.0 L509.2 740.0 L508.0 745.0 L508.3 750.0 L510.0 755.0 L506.0 757.0 L502.5 758.3 L496.7 755.0 L495.0 751.0 L493.3 746.7 L492.0 741.0 Z" fill="#ffffff" stroke="#8c8c8c" stroke-width="0.55" stroke-linejoin="round"/>
<path d="M454.2 765.0 L460.0 765.8 L463.3 766.7 L465.0 767.5 L468.3 771.7 L471.7 776.7 L470.8 780.8 L466.0 781.5 L463.3 780.8 L459.0 779.0 L455.0 779.2 L449.0 780.5 L443.3 780.0 L442.5 777.5 L446.0 776.5 L450.0 775.0 L451.7 770.8 Z" fill="#ffffff" stroke="#8c8c8c" stroke-width="0.55" stroke-linejoin="round"/>
<path d="M460.0 782.5 L464.0 782.2 L468.3 783.3 L470.5 786.5 L473.3 789.2 L476.5 788.2 L480.0 788.3 L483.0 788.6 L485.8 790.0 L482.0 792.4 L478.3 794.2 L475.0 794.6 L471.7 795.8 L469.0 799.0 L466.7 801.7 L464.0 803.0 L461.7 803.3 L459.5 800.5 L458.3 798.3 L454.0 794.5 L450.0 791.7 L451.5 789.5 L453.3 787.5 L456.5 785.0 Z" fill="#ffffff" stroke="#8c8c8c" stroke-width="0.55" stroke-linejoin="round"/>
<path d="M433.3 716.7 L437.0 713.8 L441.0 713.5 L445.8 711.7 L451.0 711.6 L456.7 710.8 L459.5 713.5 L460.8 716.7 L459.2 721.7 L462.0 722.5 L465.0 724.2 L468.0 726.0 L470.0 728.3 L471.2 730.5 L470.8 732.5 L464.2 735.0 L461.0 732.0 L458.3 730.0 L454.5 731.0 L450.8 732.5 L445.0 733.3 L440.0 730.0 L434.2 726.7 L432.5 721.7 Z" fill="#5a93c9" stroke="#5a93c9" stroke-width="0.3" stroke-linejoin="round"/>
<path d="M453.8 711.8 L452.5 717.0 L453.5 723.0 L452.0 728.0 L451.5 732.2" fill="none" stroke="#a9c6e2" stroke-width="0.4" stroke-linejoin="round" stroke-linecap="round"/>
<path d="M425.8 748.3 L430.0 746.5 L434.0 744.5 L438.3 742.5 L442.0 741.0 L445.2 736.5 L447.0 739.5 L450.8 745.0 L456.7 749.2 L458.3 753.3 L454.2 758.3 L455.0 763.3 L454.2 765.0 L451.7 770.8 L450.0 775.0 L446.0 776.5 L442.5 777.5 L438.3 775.8 L436.7 775.5 L433.5 778.0 L431.7 780.0 L430.8 783.3 L427.5 787.0 L424.2 790.0 L420.0 790.6 L415.8 791.7 L413.3 789.2 L416.5 786.0 L420.8 782.5 L420.0 778.3 L424.5 778.6 L428.0 779.5 L430.0 779.2 L427.0 774.0 L425.0 770.0 L423.3 766.0 L421.7 760.0 L423.0 753.0 Z" fill="#5a93c9" stroke="#5a93c9" stroke-width="0.3" stroke-linejoin="round"/>
<path d="M425.8 748.3 L431.0 750.0 L436.0 749.0 L441.0 747.5 L446.0 746.0 L450.8 745.0" fill="none" stroke="#a9c6e2" stroke-width="0.4" stroke-linejoin="round" stroke-linecap="round"/>
<path d="M423.0 753.5 L429.0 753.5 L434.0 755.0 L440.0 757.5 L446.0 758.0 L450.0 760.0 L454.5 760.0" fill="none" stroke="#a9c6e2" stroke-width="0.4" stroke-linejoin="round" stroke-linecap="round"/>
<path d="M430.0 754.0 L431.5 759.0 L434.0 764.0 L435.0 770.0 L436.7 775.5" fill="none" stroke="#a9c6e2" stroke-width="0.4" stroke-linejoin="round" stroke-linecap="round"/>
<path d="M440.0 757.5 L441.0 763.0 L443.0 768.0 L444.5 772.0 L446.0 776.5" fill="none" stroke="#a9c6e2" stroke-width="0.4" stroke-linejoin="round" stroke-linecap="round"/>
<path d="M445.2 736.5 L442.0 741.0 L438.3 742.5 L441.5 741.2 Z" fill="#ffffff" stroke="#ffffff" stroke-width="0.2" stroke-linejoin="round"/>
<path d="M440.0 741.5 L445.0 744.5 L450.8 748.0 L456.0 750.5" fill="none" stroke="#ffffff" stroke-width="0.7" stroke-linejoin="round" stroke-linecap="round"/>
<path d="M463.3 749.2 L466.7 746.7 L471.0 747.5 L475.8 749.2 L483.3 750.8 L486.7 747.5 L493.3 746.7 L495.0 751.0 L496.7 755.0 L502.5 758.3 L499.5 760.5 L496.7 762.5 L495.5 765.0 L495.0 767.5 L491.0 769.0 L486.7 770.0 L483.3 771.7 L478.0 774.5 L473.3 776.7 L471.7 776.7 L468.3 771.7 L465.0 767.5 L467.5 765.5 L470.0 763.3 L466.5 763.4 L463.3 764.2 L459.0 763.8 L455.0 763.3 L454.2 758.3 L458.3 753.3 L456.7 749.2 Z" fill="#1460b8" stroke="#1460b8" stroke-width="0.3" stroke-linejoin="round"/>
<path d="M455.0 760.5 L460.0 759.5 L465.0 759.0 L470.0 759.5 L474.0 758.0 L478.0 759.5 L482.0 758.5 L484.5 760.0" fill="none" stroke="#7fb0e6" stroke-width="0.4" stroke-linejoin="round" stroke-linecap="round"/>
<path d="M484.5 760.0 L486.0 755.0 L485.0 751.5 L483.3 750.8" fill="none" stroke="#7fb0e6" stroke-width="0.4" stroke-linejoin="round" stroke-linecap="round"/>
<path d="M484.5 760.0 L486.0 764.0 L485.5 768.0 L486.7 770.0" fill="none" stroke="#7fb0e6" stroke-width="0.4" stroke-linejoin="round" stroke-linecap="round"/>
<path d="M465.5 752.5 Q469 752 471.5 754.5 Q468.5 756.5 466 755 Z" fill="#ffffff"/>
<path d="M468 764.5 Q471 763 472.5 761 Q473.5 763.5 471 765.5 Z" fill="#ffffff"/>
<circle cx="432.5" cy="731.7" r="2" fill="#1460b8"/>
<path d="M214.6 828 L358 828 Q330 834 304 847 L166.5 847 Z" fill="#38b4e8"/>
<path d="M563.5 828 H600 V847 H519 Q550 842.5 563.5 828 Z" fill="#38b4e8"/>
<path d="M358 828 H564.5 Q550 842.5 520 847 H304 Q330 834 358 828 Z" fill="url(#boty)"/>
<path d="M589.3 705 L568.3 770 L508 818.5 Q507.3 800 507.3 768 Q507.3 760 516.7 755 Z" fill="url(#rib2)"/>
<path d="M507.3 818.8 L538 796 Q556 812 564.5 828 H511 Q507.3 828 507.3 824 Z" fill="url(#fold2)"/>
</svg></body></html>
